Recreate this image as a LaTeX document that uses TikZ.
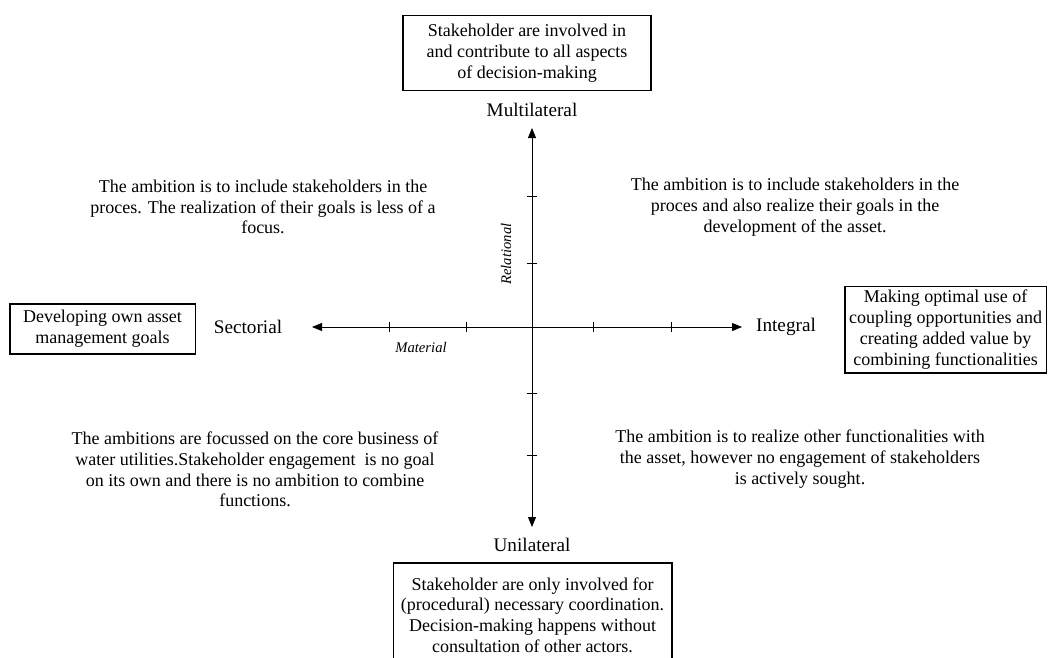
\documentclass[tikz,border=0pt]{standalone}
\usepackage{fontspec}
\setmainfont{Liberation Serif}
\usetikzlibrary{arrows.meta}
\begin{document}
\begin{tikzpicture}[x=0.75pt,y=-0.75pt,>={Triangle[length=7.5pt,width=6pt]},
  box/.style={draw,line width=1pt,align=center,inner sep=0pt,font=\fontsize{13.5}{15.6}\selectfont},
  ambition/.style={align=center,font=\fontsize{13.5}{15.6}\selectfont},
  pole/.style={font=\fontsize{14.4}{17}\selectfont},
  dimension/.style={font=\fontsize{11}{13}\selectfont\itshape}]
\useasboundingbox (0,0) rectangle (1049,657);

% axes
\coordinate (west) at (312,327);
\coordinate (east) at (742,327);
\coordinate (north) at (532,128);
\coordinate (south) at (532,527);
\draw[<->,line width=0.6pt] (west) -- (east);
\draw[<->,line width=0.6pt] (north) -- (south);
\foreach \x in {389,466,593,671}
  \draw[line width=0.6pt] (\x,322) -- (\x,332);
\foreach \y in {196,263,393,455}
  \draw[line width=0.6pt] (527,\y) -- (537,\y);

\node[pole] (multi) at (532,110) {Multilateral};
\node[pole] (uni) at (532,545) {Unilateral};
\node[pole] (sect) at (248,327) {Sectorial};
\node[pole] (integ) at (786,327) {Integral};
\node[dimension,rotate=90] (rel) at (506,254) {Relational};
\node[dimension] (mat) at (421,347) {Material};

% boxes
\node[box,minimum width=186pt,minimum height=56pt] (topbox) at (527,53)
  {Stakeholder are involved in\\and contribute to all aspects\\of decision-making};
\node[box,minimum width=139pt,minimum height=37.5pt] (leftbox) at (102.5,329)
  {Developing own asset\\management goals};
\node[box,minimum width=151pt,minimum height=65pt] (rightbox) at (945.5,329.5)
  {Making optimal use of\\coupling opportunities and\\creating added value by\\combining functionalities};
\node[box,minimum width=209pt,minimum height=78pt] (botbox) at (532.5,615)
  {Stakeholder are only involved for\\(procedural) necessary coordination.\\Decision-making happens without\\consultation of other actors.};

% quadrants
\node[ambition] (tl) at (263,207)
  {The ambition is to include stakeholders in the\\proces. The realization of their goals is less of a\\focus.};
\node[ambition] (tr) at (795,207)
  {The ambition is to include stakeholders in the\\proces and also realize their goals in the\\development of the asset.};
\node[ambition] (bl) at (255,469.5)
  {The ambitions are focussed on the core business of\\water utilities.Stakeholder engagement\ \ is no goal\\on its own and there is no ambition to combine\\functions.};
\node[ambition] (br) at (800,459)
  {The ambition is to realize other functionalities with\\the asset, however no engagement of stakeholders\\is actively sought.};
\end{tikzpicture}
\end{document}
